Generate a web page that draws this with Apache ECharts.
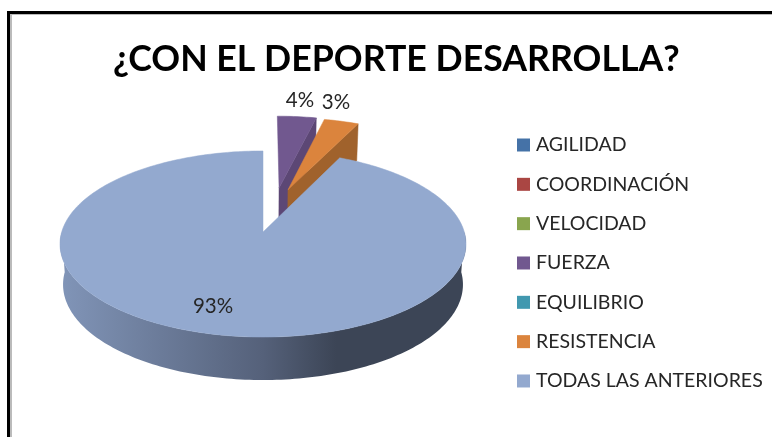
<!DOCTYPE html>
<html><head><meta charset="utf-8">
<style>html,body{margin:0;padding:0;background:#fff}#c{width:772px;height:437px}</style>
<script src="https://cdn.jsdelivr.net/npm/echarts@6/dist/echarts.min.js"></script>
</head><body><div id="c"></div>
<script>
var categories = ['AGILIDAD','COORDINACIÓN','VELOCIDAD','FUERZA','EQUILIBRIO','RESISTENCIA','TODAS LAS ANTERIORES'];
var values = [0,0,0,3.7,0,3.3,93];
var colors = ['#4572A7','#AA4643','#89A54E','#71588F','#4198AF','#DB843D','#93A9CF'];
var wallColors = ['#35567D','#803532','#677C3B','#5C4775','#31728A','#A0622C','#3C4556'];
var titleText = '¿CON EL DEPORTE DESARROLLA?';

var total = values.reduce(function(a,b){return a+b;},0);
// perspective projection of the unit disk
var P = {x0:263, y0:232, a:91.5, b:201.3, k:0.129, h:40.2, bs:0.985};
function topPt(u,v){var w=1+P.k*v;return [P.x0+P.b*u/w, P.y0-P.a*v/w];}
function botPt(u,v){var w=1+P.k*v;return [P.x0+P.bs*P.b*u/w, P.y0-P.a*v/w+P.h/(1+0.5*P.k*v)];}
var pull = {3:[0.085,0.513],5:[0.132,0.49],6:[0,0]};
var labelAt = {3:[300,100],5:[336,102],6:[213,306]};

function sectorPts(fn,o,a0,a1,center){
  var pts=[],n=Math.max(4,Math.ceil((a1-a0)/0.02));
  if(center) pts.push(fn(o[0],o[1]));
  for(var i=0;i<=n;i++){var t=a0+(a1-a0)*i/n;pts.push(fn(o[0]+Math.sin(t),o[1]+Math.cos(t)));}
  return pts;
}
function poly(points,fill){return {type:'polygon',shape:{points:points},style:{fill:fill,stroke:fill,lineWidth:0.5},silent:true};}

function makeRender(idx){
  return function(params,api){
    var val=api.value(0);
    if(!val) return {type:'group',children:[]};
    var before=0;for(var i=0;i<idx;i++)before+=values[i];
    var a0=before/total*2*Math.PI,a1=(before+val)/total*2*Math.PI;
    var o=pull[idx]||[0,0],kids=[],fill=colors[idx],wall=wallColors[idx];
    if(idx===6){
      var tp=sectorPts(topPt,o,Math.PI/2,3*Math.PI/2,false);
      var bp=sectorPts(botPt,o,Math.PI/2,3*Math.PI/2,false).reverse();
      kids.push({type:'polygon',shape:{points:tp.concat(bp)},silent:true,style:{
        fill:new echarts.graphic.LinearGradient(0,0,1,0,[
          {offset:0,color:'#8195B8'},{offset:0.5,color:'#55617A'},{offset:0.68,color:'#3C4556'},{offset:1,color:'#3C4556'}])}});
    } else {
      var p1=topPt(o[0],o[1]),q1=botPt(o[0],o[1]);
      var e=[o[0]+Math.sin(a1),o[1]+Math.cos(a1)];
      kids.push(poly([p1,topPt(e[0],e[1]),botPt(e[0],e[1]),q1],wall));
    }
    kids.push(poly(sectorPts(topPt,o,a0,a1,true),fill));
    return {type:'group',children:kids.concat([{type:'text',silent:true,z2:10,style:{
      x:labelAt[idx][0],y:labelAt[idx][1],text:Math.round(val)+'%',align:'center',verticalAlign:'middle',
      font:'20.5px Lato',fill:'#262626'}}])};
  };
}

var chart=echarts.init(document.getElementById('c'),null,{renderer:'canvas'});
chart.setOption({
  animation:false,
  backgroundColor:'#fff',
  title:{text:titleText,left:108,top:36,textStyle:{fontFamily:'Lato',fontWeight:'bold',fontSize:35.7,color:'#000'}},
  legend:{orient:'vertical',left:512,top:130,itemWidth:13,itemHeight:13,itemGap:19.33,icon:'rect',
    data:categories,selectedMode:false,
    textStyle:{fontFamily:'Lato',fontSize:19.5,color:'#262626',padding:[0,0,0,1]}},
  graphic:[
    {type:'line',z:100,shape:{x1:7,y1:12.5,x2:772,y2:12.5},style:{stroke:'#000',lineWidth:3}},
    {type:'line',z:100,shape:{x1:10,y1:14.5,x2:772,y2:14.5},style:{stroke:'#bbb',lineWidth:1}},
    {type:'line',z:100,shape:{x1:8.5,y1:11,x2:8.5,y2:437},style:{stroke:'#000',lineWidth:3}},
    {type:'line',z:100,shape:{x1:11,y1:14,x2:11,y2:437},style:{stroke:'#bbb',lineWidth:2}}
  ],
  series:categories.map(function(name,i){
    return {type:'custom',name:name,coordinateSystem:'none',itemStyle:{color:colors[i]},
      renderItem:makeRender(i),data:[[values[i]]],z:2+i};
  })
});
</script></body></html>
